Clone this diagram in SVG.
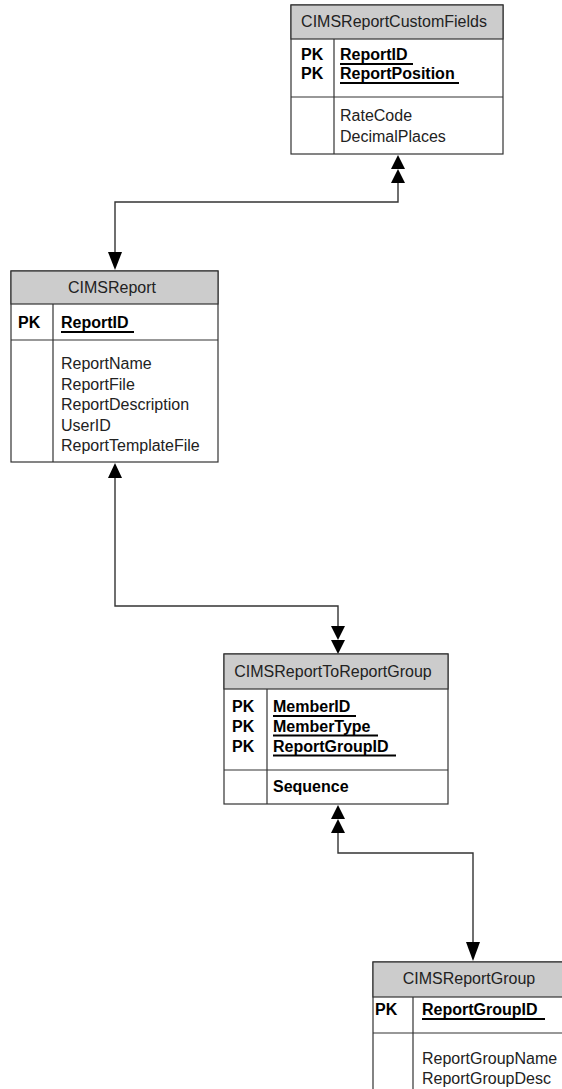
<svg xmlns="http://www.w3.org/2000/svg" width="562" height="1089" viewBox="0 0 562 1089">
<style>
.box{fill:#ffffff;stroke:#333333;stroke-width:1.2}
.hdr{fill:#cccccc;stroke:#333333;stroke-width:1.2}
.ln{stroke:#333333;stroke-width:1.2;fill:none}
.t{font-family:"Liberation Sans",Arial,sans-serif;font-size:16px;fill:#222222}
.h{text-anchor:middle}
.b{font-weight:bold;fill:#000000}
.ul{stroke:#000000;stroke-width:2}
.ar{fill:#000000;stroke:none}
.cn{stroke:#333333;stroke-width:1.4;fill:none}
</style>
<rect width="562" height="1089" fill="#ffffff"/>
<g id="connectors">
<path class="cn" d="M398,183 V202 H115 V252"/>
<polygon class="ar" points="391,169 405,169 398,155"/>
<polygon class="ar" points="391,183 405,183 398,169"/>
<polygon class="ar" points="108,252 122,252 115,270"/>
<path class="cn" d="M115,477 V606 H338 V626"/>
<polygon class="ar" points="108,478 122,478 115,463"/>
<polygon class="ar" points="331,626 345,626 338,640"/>
<polygon class="ar" points="331,640 345,640 338,654"/>
<path class="cn" d="M338,833 V853 H473 V942"/>
<polygon class="ar" points="331,819 345,819 338,805"/>
<polygon class="ar" points="331,833 345,833 338,819"/>
<polygon class="ar" points="466,942 480,942 473,961"/>
</g>
<g id="CIMSReportCustomFields">
<rect class="box" x="291" y="5" width="212" height="149"/>
<rect class="hdr" x="291" y="5" width="212" height="34"/>
<line class="ln" x1="291" y1="97" x2="503" y2="97"/>
<line class="ln" x1="334" y1="39" x2="334" y2="154"/>
<text class="t h" x="394" y="27">CIMSReportCustomFields</text>
<text class="t b" x="301" y="60">PK</text>
<text class="t b" x="301" y="79">PK</text>
<text class="t b" x="340" y="60">ReportID</text>
<text class="t b" x="340" y="79">ReportPosition</text>
<line class="ul" x1="340" y1="64" x2="413" y2="64"/>
<line class="ul" x1="340" y1="83" x2="459" y2="83"/>
<text class="t" x="340" y="121">RateCode</text>
<text class="t" x="340" y="142">DecimalPlaces</text>
</g>
<g id="CIMSReport">
<rect class="box" x="11" y="271" width="207" height="191"/>
<rect class="hdr" x="11" y="271" width="207" height="33"/>
<line class="ln" x1="11" y1="340" x2="218" y2="340"/>
<line class="ln" x1="53" y1="304" x2="53" y2="462"/>
<text class="t h" x="112" y="293">CIMSReport</text>
<text class="t b" x="18" y="328">PK</text>
<text class="t b" x="61" y="328">ReportID</text>
<line class="ul" x1="61" y1="332" x2="134" y2="332"/>
<text class="t" x="61" y="369">ReportName</text>
<text class="t" x="61" y="389.5">ReportFile</text>
<text class="t" x="61" y="410">ReportDescription</text>
<text class="t" x="61" y="430.5">UserID</text>
<text class="t" x="61" y="451">ReportTemplateFile</text>
</g>
<g id="CIMSReportToReportGroup">
<rect class="box" x="224" y="654" width="224" height="150"/>
<rect class="hdr" x="224" y="654" width="224" height="35"/>
<line class="ln" x1="224" y1="770" x2="448" y2="770"/>
<line class="ln" x1="267" y1="689" x2="267" y2="804"/>
<text class="t h" x="333" y="677">CIMSReportToReportGroup</text>
<text class="t b" x="232" y="712">PK</text>
<text class="t b" x="232" y="731.5">PK</text>
<text class="t b" x="232" y="751.5">PK</text>
<text class="t b" x="273" y="712">MemberID</text>
<text class="t b" x="273" y="731.5">MemberType</text>
<text class="t b" x="273" y="751.5">ReportGroupID</text>
<line class="ul" x1="273" y1="716" x2="356" y2="716"/>
<line class="ul" x1="273" y1="735.5" x2="378" y2="735.5"/>
<line class="ul" x1="273" y1="755.5" x2="396" y2="755.5"/>
<text class="t b" x="273" y="792">Sequence</text>
</g>
<g id="CIMSReportGroup">
<rect class="box" x="373" y="962" width="210" height="140"/>
<rect class="hdr" x="373" y="962" width="210" height="35"/>
<line class="ln" x1="373" y1="1033" x2="583" y2="1033"/>
<line class="ln" x1="413" y1="997" x2="413" y2="1100"/>
<text class="t h" x="469" y="984">CIMSReportGroup</text>
<text class="t b" x="375" y="1015">PK</text>
<text class="t b" x="422" y="1015">ReportGroupID</text>
<line class="ul" x1="422" y1="1019" x2="545" y2="1019"/>
<text class="t" x="422" y="1063.5">ReportGroupName</text>
<text class="t" x="422" y="1084">ReportGroupDesc</text>
</g>
</svg>
